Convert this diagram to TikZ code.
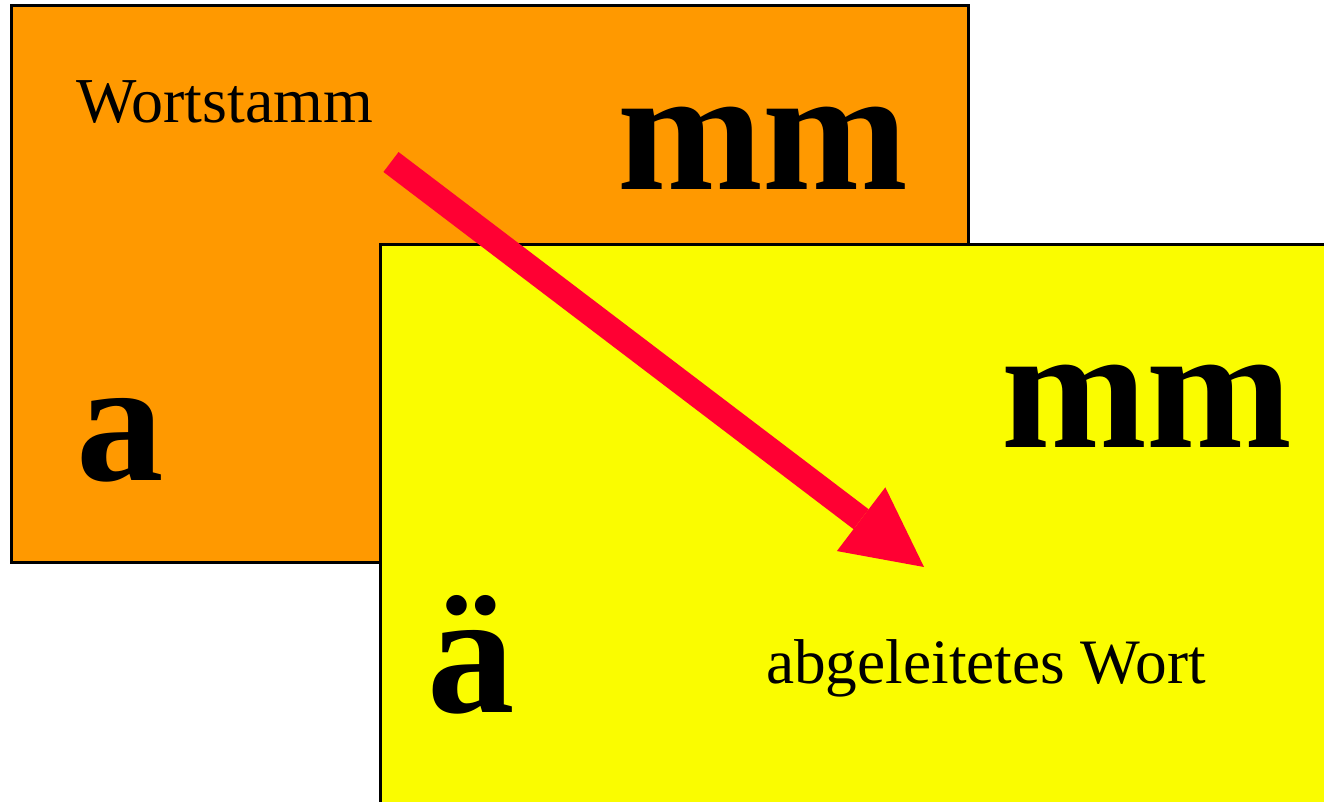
\documentclass[tikz,border=0pt]{standalone}
\usepackage{fontspec}
\setmainfont{Liberation Serif}
\usetikzlibrary{arrows.meta}
\definecolor{stemorange}{RGB}{255,153,0}
\definecolor{derivyellow}{RGB}{250,252,0}
\definecolor{arrowred}{RGB}{255,0,51}
\tikzset{
  card/.style={draw=black, line width=3pt},
  smalltxt/.style={anchor=base west, inner sep=0pt},
  bigtxt/.style={anchor=base west, inner sep=0pt, font=\fontsize{175}{175}\selectfont\bfseries},
  bigarrow/.style={draw=arrowred, line width=25pt, -{Triangle[length=79pt,width=80pt,line width=0pt]}}
}
\begin{document}
\begin{tikzpicture}[x=1pt,y=-1pt]
\useasboundingbox (0,0) rectangle (1324,802);
% orange card
\path[card, fill=stemorange] (11,6) rectangle (968,562);
\node[smalltxt, font=\fontsize{64}{64}\selectfont] (stem) at (76,123) {Wortstamm};
\node[bigtxt] (mm1) at (617,190) {mm};
\node[bigtxt] (a1) at (76,480) {a};
% yellow card
\path[card, fill=derivyellow] (380,245) rectangle (1340,820);
\node[bigtxt] (mm2) at (1001,447) {mm};
\node[bigtxt] (a2) at (427,712) {ä};
\node[smalltxt, font=\fontsize{63.3}{63.3}\selectfont] (deriv) at (766,683) {abgeleitetes Wort};
% arrow
\coordinate (s) at (391,162);
\coordinate (t) at (924,567);
\draw[bigarrow] (s) -- (t);
\end{tikzpicture}
\end{document}
